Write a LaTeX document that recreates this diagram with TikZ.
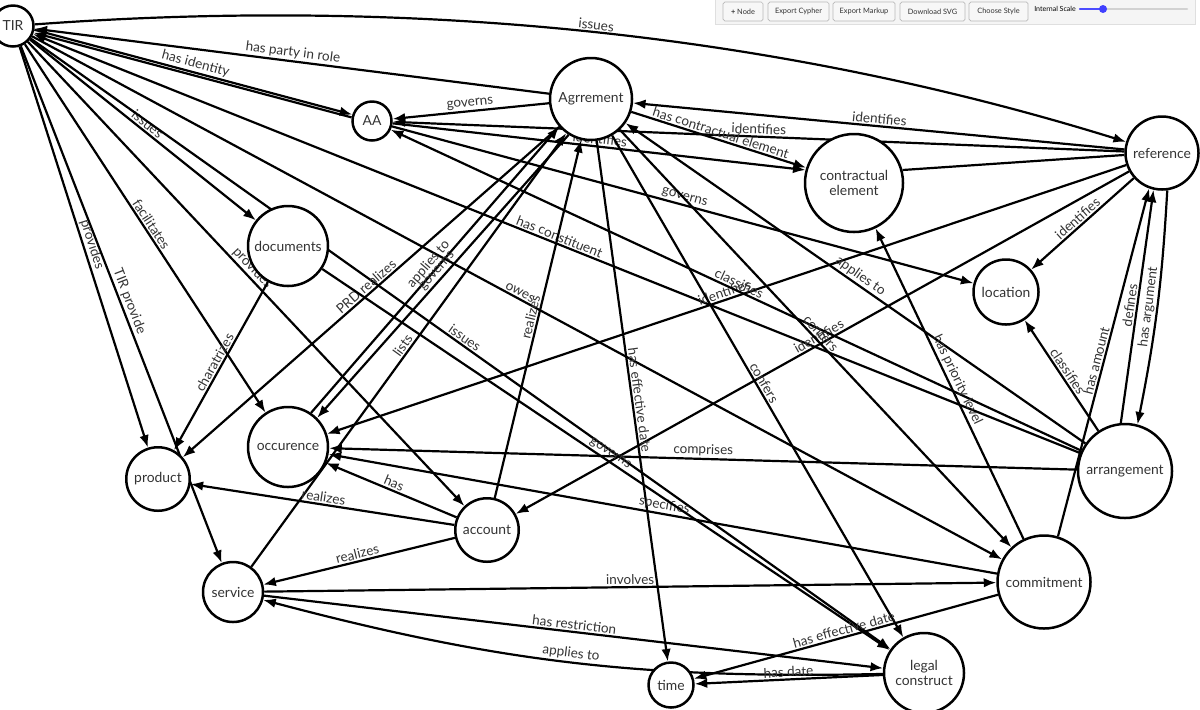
\documentclass[tikz,border=0pt]{standalone}
\usepackage{fontspec}
\setmainfont{Lato}
\usetikzlibrary{arrows.meta, backgrounds, positioning}
\definecolor{inkgray}{HTML}{333333}
\tikzset{
  entity/.style={circle, draw=black, line width=0.5mm, fill=white, inner sep=0pt,
    minimum size=#1, align=center, text=inkgray, font=\fontsize{7.9}{8.8}\selectfont},
  rel/.style={->, line width=0.44mm},
  lbl/.style={midway, sloped, above, inner sep=0.8pt, text=inkgray,
    font=\fontsize{7.7}{8.5}\selectfont},
  btn/.style={draw=gray!55, fill=gray!6, rounded corners=1pt, minimum height=3.8mm,
    inner sep=0pt, font=\fontsize{4.2}{5}\selectfont, text=black!80},
}
\begin{document}
\begin{tikzpicture}[x=0.2mm, y=-0.2mm, >={Latex[length=2.5mm, width=1.9mm]}]
    \useasboundingbox (0,0) rectangle (1200,709);

    % Entities
    \node[entity=8.2mm]  (tir)   at (13,26)    {TIR};
    \node[entity=7.8mm]  (aa)    at (372,121)  {AA};
    \node[entity=16.4mm] (agr)   at (591,99)   {Agrrement};
    \node[entity=19.6mm] (cel)   at (854,183)  {contractual\\element};
    \node[entity=14.6mm] (ref)   at (1162,153) {reference};
    \node[entity=16mm]   (doc)   at (288,246)  {documents};
    \node[entity=13mm]   (loc)   at (1006,292) {location};
    \node[entity=16mm]   (occ)   at (288,447)  {occurence};
    \node[entity=12.7mm] (prod)  at (158,479)  {product};
    \node[entity=12.7mm] (acc)   at (487,530)  {account};
    \node[entity=12mm]   (serv)  at (233,592)  {service};
    \node[entity=18.8mm] (arr)   at (1125,471) {arrangement};
    \node[entity=18.6mm] (com)   at (1044,582) {commitment};
    \node[entity=16mm]   (legal) at (924,673)  {legal\\construct};
    \node[entity=9mm]    (time)  at (671,685)  {time};

    \begin{scope}[on background layer]
    % Relations of TIR
    \draw[rel] (tir) .. controls (419,-4) and (782,35) .. node[lbl] {issues} (ref);
    \draw[rel] (agr) -- node[lbl] {has party in role} (tir);
    \draw[rel] (tir.-10) -- node[lbl] {has identity} (aa.162);
    \draw[rel] (aa.170) -- (tir.-18);
    \draw[rel] (tir) -- node[lbl] {issues} (doc);
    \draw[rel] (tir) -- node[lbl] {facilitates} (occ);
    \draw[rel] (tir) -- node[lbl] {provides} (prod);
    \draw[rel] (tir) -- node[lbl] {TIR provide} (serv);
    \draw[rel] (tir) -- node[lbl] {provides} (acc);
    \draw[rel] (tir) -- node[lbl] {owes} (com);
    \draw[rel] (tir) -- node[lbl] {issues} (legal);
    \draw[rel] (arr) -- node[lbl] {has constituent} (tir);

    % Agreement, AA and reference
    \draw[rel] (agr) -- node[lbl] {governs} (aa);
    \draw[rel] (ref) -- node[lbl] {identifies} (agr);
    \draw[rel] (ref) -- node[lbl] {identifies} (aa);
    \draw[rel] (agr) -- node[lbl] {has contractual element} (cel);
    \draw[rel] (aa) -- node[lbl] {identifies} (cel.165);
    \draw[line width=0.44mm] (cel.15) -- (ref.183);
    \draw[rel] (aa) -- node[lbl] {governs} (loc);
    \draw[rel] (ref) -- node[lbl] {identifies} (loc);
    \draw[rel] (ref) -- node[lbl] {identifies} (occ);
    \draw[rel] (ref) -- node[lbl] {identifies} (acc);

    % Arrangement
    \draw[rel] (ref.-82) to[bend left=4] node[lbl] {has argument} (arr.75);
    \draw[rel] (arr.95) -- node[lbl] {defines} (ref.-103);
    \draw[rel] (com.73) -- node[lbl] {has amount} (ref.-110);
    \draw[rel] (arr) -- node[lbl] {classifies} (loc);
    \draw[rel] (arr) -- node[lbl] {classifies} (aa);
    \draw[rel] (arr) -- node[lbl] {applies to} (agr);
    \draw[rel] (arr) -- node[lbl] {comprises} (occ);

    % Agreement downwards
    \draw[rel] (agr) -- node[lbl] {confers} (com);
    \draw[rel] (agr) -- node[lbl] {confers} (legal);
    \draw[rel] (agr) -- node[lbl] {has effective date} (time);
    \draw[rel] (com) -- node[lbl] {has priority level} (cel);
    \draw[rel] (occ.56) -- node[lbl] {applies to} (agr.221);
    \draw[rel] (agr.238) -- node[lbl] {governs} (occ.45);
    \draw[rel] (agr) -- node[lbl] {PRD realizes} (prod);
    \draw[rel] (serv) -- node[lbl] {lists} (agr);

    % Account, service and the rest
    \draw[rel] (com) -- node[lbl] {specifies} (occ);
    \draw[rel] (acc) -- node[lbl] {has} (occ);
    \draw[rel] (acc) -- node[lbl] {realizes} (prod);
    \draw[rel] (acc) -- node[lbl] {realizes} (serv);
    \draw[rel] (acc) -- node[lbl] {realizes} (agr);
    \draw[rel] (doc) -- node[lbl] {charatrizes} (prod);
    \draw[rel] (doc) -- node[lbl] {governs} (legal);
    \draw[rel] (serv) -- node[lbl] {involves} (com);
    \draw[rel] (serv) -- node[lbl] {has restriction} (legal);
    \draw[rel] (legal) to[bend left=8] node[lbl] {applies to} (serv);
    \draw[rel] (legal) -- node[lbl] {has date} (time);
    \draw[rel] (com) -- node[lbl] {has effective date} (time);
    \end{scope}

    % Toolbar
    \fill[gray!8] (715,0) rectangle (1195,24);
    \draw[gray!25] (715,0) -- (715,24) -- (1195,24) -- (1195,0);
    \node[btn, minimum width=8mm]    (bnode)   at (743,11.5)   {\textbf{+} Node};
    \node[btn, minimum width=12.2mm] (bcypher) at (798.5,11.5) {Export Cypher};
    \node[btn, minimum width=12.4mm] (bmarkup) at (864,11.5)   {Export Markup};
    \node[btn, minimum width=13mm]   (bsvg)    at (932.5,11.5) {Download SVG};
    \node[btn, minimum width=11.8mm] (bstyle)  at (998.5,11.5) {Choose Style};
    \node[font=\fontsize{4}{5}\selectfont, inner sep=0pt] (scale) at (1055,9) {Internal Scale};
    \draw[gray!35, line width=0.5mm, line cap=round] (1080,9) -- (1187,9);
    \draw[blue!70, line width=0.5mm, line cap=round] (1080,9) -- (1103,9);
    \fill[blue!75] (1103,9) circle (0.8mm);
\end{tikzpicture}
\end{document}
